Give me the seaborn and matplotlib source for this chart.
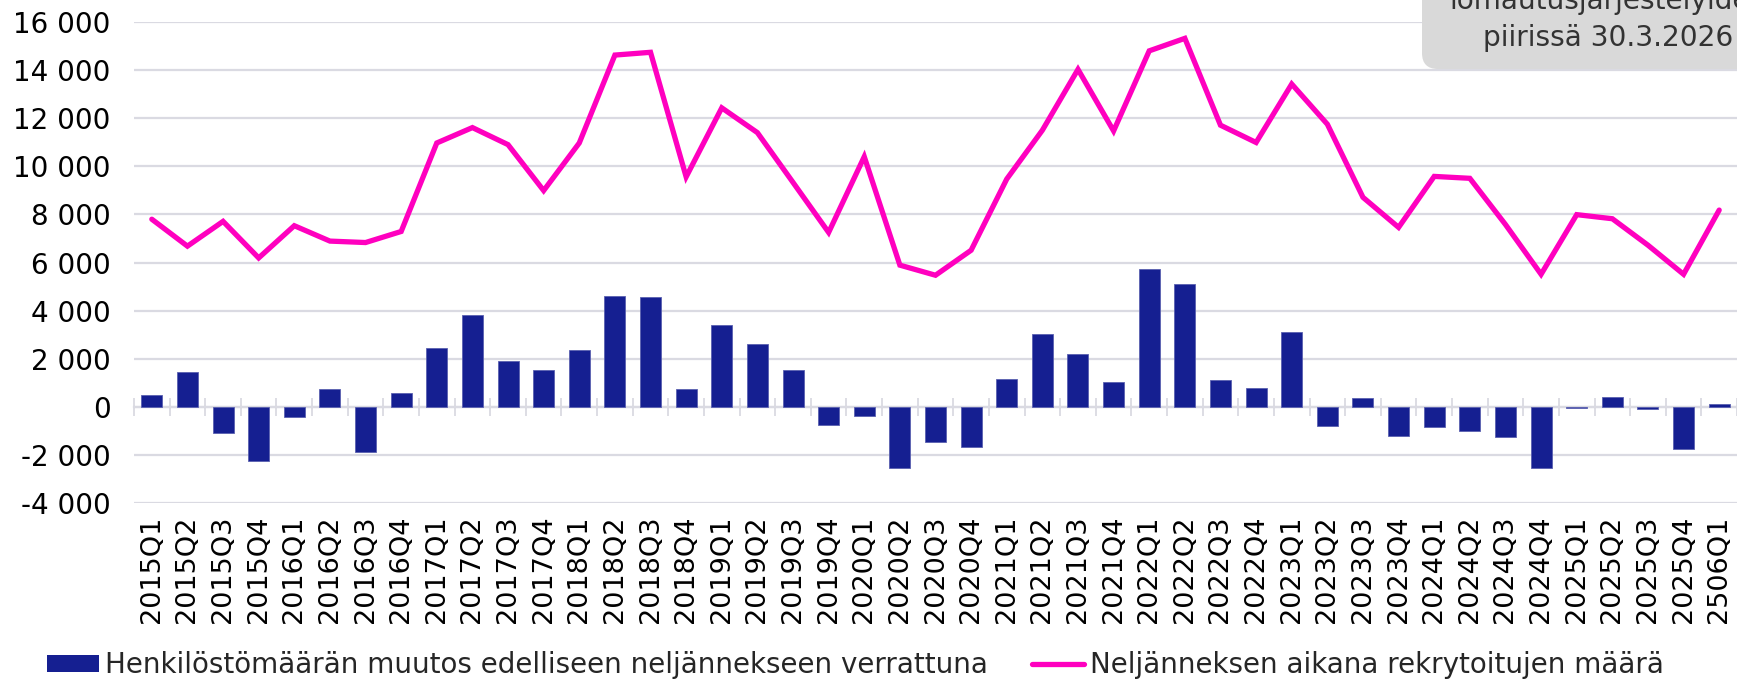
import numpy as np
import pandas as pd
import matplotlib
matplotlib.use("Agg")
import matplotlib.pyplot as plt
import seaborn as sns
from matplotlib.patches import FancyBboxPatch, Patch
from matplotlib.lines import Line2D
from matplotlib.ticker import FuncFormatter, FixedLocator
from matplotlib.transforms import IdentityTransform

# ---------------- data ----------------
categories = [f"{y}Q{q}" for y in range(2015, 2026) for q in range(1, 5)] + ["2506Q1"]

muutos = [470, 1430, -1070, -2260,
          -440, 740, -1880, 560,
          2460, 3830, 1890, 1530,
          2360, 4600, 4560, 740,
          3400, 2610, 1530, -760,
          -390, -2530, -1460, -1680,
          1140, 3040, 2180, 1040,
          5740, 5125, 1125, 790,
          3110, -790, 350, -1220,
          -820, -1000, -1240, -2560,
          -40, 420, -80, -1740,
          125]

rekry = [7800, 6680, 7710, 6190,
         7530, 6890, 6830, 7290,
         10970, 11610, 10900, 8990,
         10970, 14625, 14740, 9560,
         12430, 11400, 9330, 7250,
         10400, 5890, 5470, 6510,
         9470, 11500, 14030, 11470,
         14800, 15320, 11710, 10990,
         13420, 11750, 8710, 7460,
         9580, 9500, 7580, 5510,
         7990, 7820, 6720, 5510,
         8180]

label_bar = "Henkilöstömäärän muutos edelliseen neljännekseen verrattuna"
label_line = "Neljänneksen aikana rekrytoitujen määrä"
box_text = "lomautusjärjestelyiden\npiirissä 30.3.2026"
y_ticks = [-4000, -2000, 0, 2000, 4000, 6000, 8000, 10000, 12000, 14000, 16000]

# ---------------- style ----------------
BAR = "#151F91"
LINE = "#FF00BF"
GRID = "#DADAE2"

sns.set_style("white")
plt.rcParams["font.family"] = ["DejaVu Sans"]

W, H = 1737, 679
fig = plt.figure(figsize=(W / 100, H / 100), dpi=100)
left, right, top, bottom = 134, 1737, 22, 503
ax = fig.add_axes([left / W, 1 - bottom / H, (right - left) / W, (bottom - top) / H])

df = pd.DataFrame({"kvartaali": categories, "muutos": muutos,
                   "pos": np.arange(len(categories)), "rekry": rekry})

sns.barplot(data=df, x="kvartaali", y="muutos", color=BAR, width=0.59,
            edgecolor="#5A60B0", linewidth=0.6, saturation=1, ax=ax, zorder=3)
sns.lineplot(data=df, x="pos", y="rekry", color=LINE, linewidth=3.8, ax=ax,
             zorder=4, solid_joinstyle="miter")

ax.set_xlim(-0.5, len(categories) - 0.5)
ax.set_ylim(-4000, 16000)
ax.set_yticks(y_ticks)
ax.yaxis.set_major_formatter(FuncFormatter(lambda v, p: f"{int(v):,}".replace(",", " ")))
ax.grid(axis="y", color=GRID, linewidth=1.6, zorder=0)
ax.set_axisbelow(True)
for s in ax.spines.values():
    s.set_visible(False)
ax.set_xlabel("")
ax.set_ylabel("")
ax.tick_params(axis="y", length=0, pad=17, labelsize=20, labelcolor="#000000")
ax.tick_params(axis="x", length=0, pad=9, labelsize=19.5, labelrotation=90, labelcolor="#000000")

# zero axis line with boundary ticks
sec = ax.secondary_xaxis(0.2)
sec.spines["bottom"].set_color(GRID)
sec.spines["bottom"].set_linewidth(1.6)
sec.xaxis.set_major_locator(FixedLocator(np.arange(-0.5, len(categories), 1.0)))
sec.tick_params(axis="x", direction="inout", length=13, width=1.3, color=GRID, labelbottom=False)

# legend
handles = [Patch(facecolor=BAR, edgecolor="none"),
           Line2D([0], [0], color=LINE, linewidth=3.8, solid_capstyle="round")]
fig.legend(handles, [label_bar, label_line], loc="lower left",
           bbox_to_anchor=(47 / W, 0.0), ncol=2, frameon=False, fontsize=20,
           handlelength=1.87, handleheight=0.58, handletextpad=0.22,
           columnspacing=1.6, borderpad=0, borderaxespad=0)

# note box (clipped at the top-right corner)
box = FancyBboxPatch((1422, H - 69), 400, 200,
                     boxstyle="round,pad=0,rounding_size=16",
                     transform=IdentityTransform(), facecolor="#D9D9D9",
                     edgecolor="none", zorder=5)
fig.add_artist(box)
fig.text(1608 / W, 1 - 51.5 / H, box_text, ha="center", va="bottom",
         multialignment="center", fontsize=20.2, color="#333333",
         linespacing=1.38, zorder=6)

fig.savefig("out.png", dpi=100)
